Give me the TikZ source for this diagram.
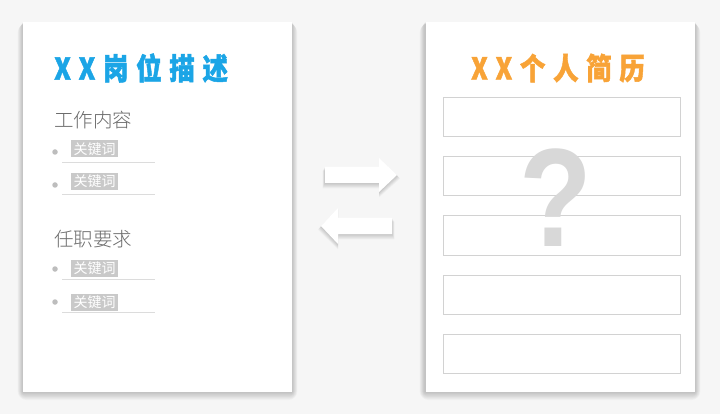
\documentclass[tikz,border=0pt]{standalone}
\usepackage{fontspec}
\setmainfont{Liberation Sans}
\newfontfamily\cjkblack{Noto Sans CJK SC Black}[LetterSpace=30, FakeBold=1.6]
\newfontfamily\cjklight{Noto Sans CJK SC Light}
\newfontfamily\cjk{Noto Sans CJK SC}
\definecolor{bgc}{HTML}{F6F6F6}
\definecolor{blueT}{HTML}{1BA5E6}
\definecolor{orangeT}{HTML}{F8A337}
\definecolor{headgray}{HTML}{6A6A6A}
\definecolor{kwgray}{HTML}{C9C9C9}
\definecolor{linegray}{HTML}{DCDCDC}
\definecolor{dotgray}{HTML}{BDBDBD}
\definecolor{boxline}{HTML}{D2D2D2}
\definecolor{qgray}{HTML}{D8D8D8}
\tikzset{
  card/.style={fill=white, draw=none, inner sep=0, minimum width=269pt, minimum height=370pt},
  title/.style={inner sep=0, font=\cjkblack\fontsize{30}{30}\selectfont},
  sechead/.style={inner sep=0, anchor=west, text=headgray, font=\cjklight\fontsize{19.5}{20}\selectfont},
  kw/.style={fill=kwgray, text=white, inner sep=0, minimum width=47pt, minimum height=17pt, font=\cjk\fontsize{14}{14}\selectfont},
  uline/.style={draw=linegray, line width=0.8pt},
  bdot/.style={circle, fill=dotgray, inner sep=0, minimum size=5.5pt},
  rbox/.style={draw=boxline, line width=1pt, fill=white, inner sep=0, minimum width=237pt, minimum height=39pt},
  arrowshape/.style={fill=white},
}
\begin{document}
\begin{tikzpicture}[x=1pt,y=-1pt]
\useasboundingbox (0,0) rectangle (720,414);
\fill[bgc] (0,0) rectangle (720,414);
% soft shadows of the cards
\foreach \xa/\xb in {23/292, 425/695}{
  \foreach \e in {1,...,9}{
    \fill[black, opacity=0.022, rounded corners=\e pt]
      (\xa-\e*0.6, 22+\e*0.2) rectangle (\xb+\e*0.6, 392+\e*0.9);
  }
}
% shadows of the arrows
\foreach \e in {1,...,6}{
  \fill[black, opacity=0.03]
    (325-\e*0.4,167+\e*0.6) -- (379,167+\e*0.6) -- (379,158+\e*0.4) -- (397+\e*0.5,175+\e*0.6) -- (379,192+\e*0.9) -- (379,183+\e*0.9) -- (325-\e*0.4,183+\e*0.9) -- cycle;
  \fill[black, opacity=0.03]
    (392+\e*0.4,218+\e*0.6) -- (338,218+\e*0.6) -- (338,208+\e*0.4) -- (321-\e*0.5,226+\e*0.6) -- (338,244+\e*0.9) -- (338,234+\e*0.9) -- (392+\e*0.4,234+\e*0.9) -- cycle;
}
% cards
\node[card] (jd) at (157.5,207) {};
\node[card] (cv) at (560,207) {};
% left card content
\node[title, anchor=west, text=blueT] (jdtitle) at (54,68) {\scalebox{0.85}[1]{XX岗位描述}};
\node[sechead] (work) at (54,120) {工作内容};
\node[bdot] (d1) at (55,152) {};
\node[kw] (k1) at (94.5,149) {关键词};
\coordinate (u1a) at (62,162); \coordinate (u1b) at (155,162);
\draw[uline] (u1a) -- (u1b);
\node[bdot] (d2) at (55,185) {};
\node[kw] (k2) at (94.5,181.5) {关键词};
\coordinate (u2a) at (62,194.5); \coordinate (u2b) at (155,194.5);
\draw[uline] (u2a) -- (u2b);
\node[sechead] (req) at (54,239) {任职要求};
\node[bdot] (d3) at (55,269) {};
\node[kw] (k3) at (94.5,268) {关键词};
\coordinate (u3a) at (62,279.5); \coordinate (u3b) at (155,279.5);
\draw[uline] (u3a) -- (u3b);
\node[bdot] (d4) at (55,302) {};
\node[kw] (k4) at (94.5,302.5) {关键词};
\coordinate (u4a) at (62,312.5); \coordinate (u4b) at (155,312.5);
\draw[uline] (u4a) -- (u4b);
% right card content
\node[title, text=orangeT] (cvtitle) at (558,68) {\scalebox{0.85}[1]{XX个人简历}};
\node[rbox] (b1) at (562,117.5) {};
\node[rbox] (b2) at (562,176.5) {};
\node[rbox] (b3) at (562,235.5) {};
\node[rbox] (b4) at (562,294.5) {};
\node[rbox] (b5) at (562,353.5) {};
\node[inner sep=0, anchor=base, text=qgray, font=\bfseries\fontsize{140}{140}\selectfont] (q) at (556,247) {\scalebox{0.85}[1]{?}};
% arrows between cards
\fill[arrowshape] (325,167) -- (379,167) -- (379,158) -- (397,175) -- (379,192) -- (379,183) -- (325,183) -- cycle;
\fill[arrowshape] (392,218) -- (338,218) -- (338,208) -- (321,226) -- (338,244) -- (338,234) -- (392,234) -- cycle;
\end{tikzpicture}
\end{document}
